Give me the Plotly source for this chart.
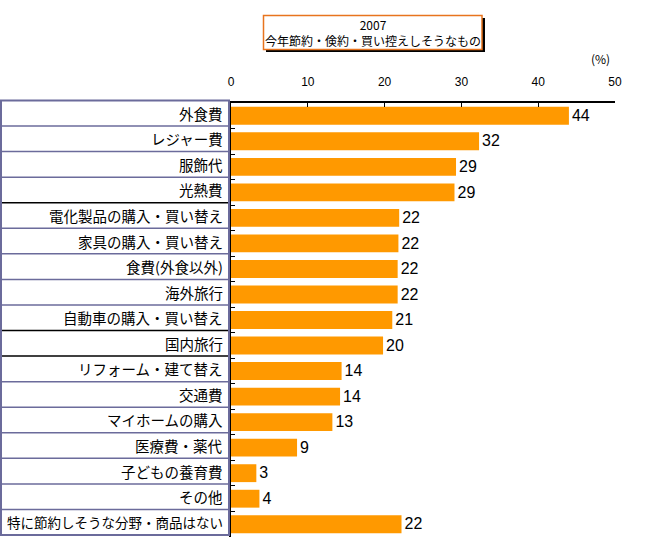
import plotly.graph_objects as go

categories = ["外食費", "レジャー費", "服飾代", "光熱費", "電化製品の購入・買い替え",
              "家具の購入・買い替え", "食費(外食以外)", "海外旅行", "自動車の購入・買い替え",
              "国内旅行", "リフォーム・建て替え", "交通費", "マイホームの購入", "医療費・薬代",
              "子どもの養育費", "その他", "特に節約しそうな分野・商品はない"]
values = [44.0, 32.3, 29.3, 29.1, 21.9, 21.8, 21.7, 21.7, 21.0, 19.8, 14.4, 14.2, 13.2, 8.6, 3.3, 3.7, 22.2]
x_ticks = [0, 10, 20, 30, 40, 50]
title_lines = ["2007", "今年節約・倹約・買い控えしそうなもの"]
black_borders_after = [3, 8, 9]  # row boundaries drawn in black (after these row indices)

W, H = 650, 537
L, R, T, B = 231, 35, 103, 0
PW, PH = W - L - R, H - T - B

def px(x):
    return (x - L) / PW

def py(y):
    return (H - B - y) / PH

JP = "Noto Sans CJK JP"
fig = go.Figure()
fig.add_trace(go.Bar(
    y=categories, x=values, orientation="h",
    marker=dict(color="#FF9900", line=dict(width=0)),
    width=0.7,
    texttemplate="%{x:.0f}", textposition="outside",
    textfont=dict(family="Liberation Sans", size=17, color="#000000"),
    cliponaxis=False, hoverinfo="skip"))

shapes = []
n = len(categories)
tbl_l, tbl_r = px(1), px(229)
top_y, bot_y = 100.5, 535.0
rh = (bot_y - top_y) / n
purple = "#6B6B9B"
for i in range(1, n):
    yy = top_y + i * rh
    col = "#000000" if (i - 1) in black_borders_after else purple
    shapes.append(dict(type="line", xref="paper", yref="paper", x0=tbl_l, x1=tbl_r,
                       y0=py(yy), y1=py(yy), line=dict(color=col, width=1.5)))
shapes.append(dict(type="rect", xref="paper", yref="paper", x0=tbl_l, x1=tbl_r,
                   y0=py(bot_y), y1=py(top_y), line=dict(color=purple, width=2)))
shapes.append(dict(type="rect", xref="paper", yref="paper", x0=px(266), x1=px(485),
                   y0=py(52), y1=py(18), fillcolor="#000000", line=dict(width=0)))
shapes.append(dict(type="rect", xref="paper", yref="paper", x0=px(263.5), x1=px(482),
                   y0=py(49.5), y1=py(15.5), fillcolor="#FFFFFF", line=dict(color="#E8741E", width=1.5)))

annotations = []
for i, c in enumerate(categories):
    yc = top_y + (i + 0.5) * rh
    size = 14.5 if len(c) < 14 else 13.5
    annotations.append(dict(text=c, xref="paper", yref="paper", x=px(225), y=py(yc),
                            xanchor="right", yanchor="middle", showarrow=False,
                            font=dict(family=JP, size=size, color="#000000")))
annotations.append(dict(text="<br>".join(title_lines), xref="paper", yref="paper", x=px(373), y=py(32),
                        xanchor="center", yanchor="middle", showarrow=False, align="center",
                        font=dict(family=JP, size=12, color="#000000")))
annotations.append(dict(text="(%)", xref="paper", yref="paper", x=px(612), y=py(58),
                        xanchor="right", yanchor="middle", showarrow=False,
                        font=dict(family=JP, size=12, color="#000000")))

fig.update_layout(
    width=W, height=H, margin=dict(l=L, r=R, t=T, b=B, pad=0),
    paper_bgcolor="#FFFFFF", plot_bgcolor="#FFFFFF",
    showlegend=False, bargap=0.3,
    shapes=shapes, annotations=annotations,
    xaxis=dict(side="top", range=[0, 50], tickvals=x_ticks, showgrid=False, zeroline=False,
               showline=True, linecolor="#000000", linewidth=1.5, ticks="inside", ticklen=4,
               tickcolor="#000000", ticklabelstandoff=10,
               tickfont=dict(family="Liberation Sans", size=12, color="#000000"), fixedrange=True),
    yaxis=dict(autorange="reversed", showticklabels=False, showgrid=False, zeroline=False,
               showline=True, linecolor="#000000", linewidth=1.5, ticks="inside", ticklen=4,
               tickson="boundaries", tickcolor="#000000", fixedrange=True),
)
fig.write_html("out.html", config={"displayModeBar": False},
               post_script="document.body.style.margin='0';document.body.style.overflow='hidden';")
